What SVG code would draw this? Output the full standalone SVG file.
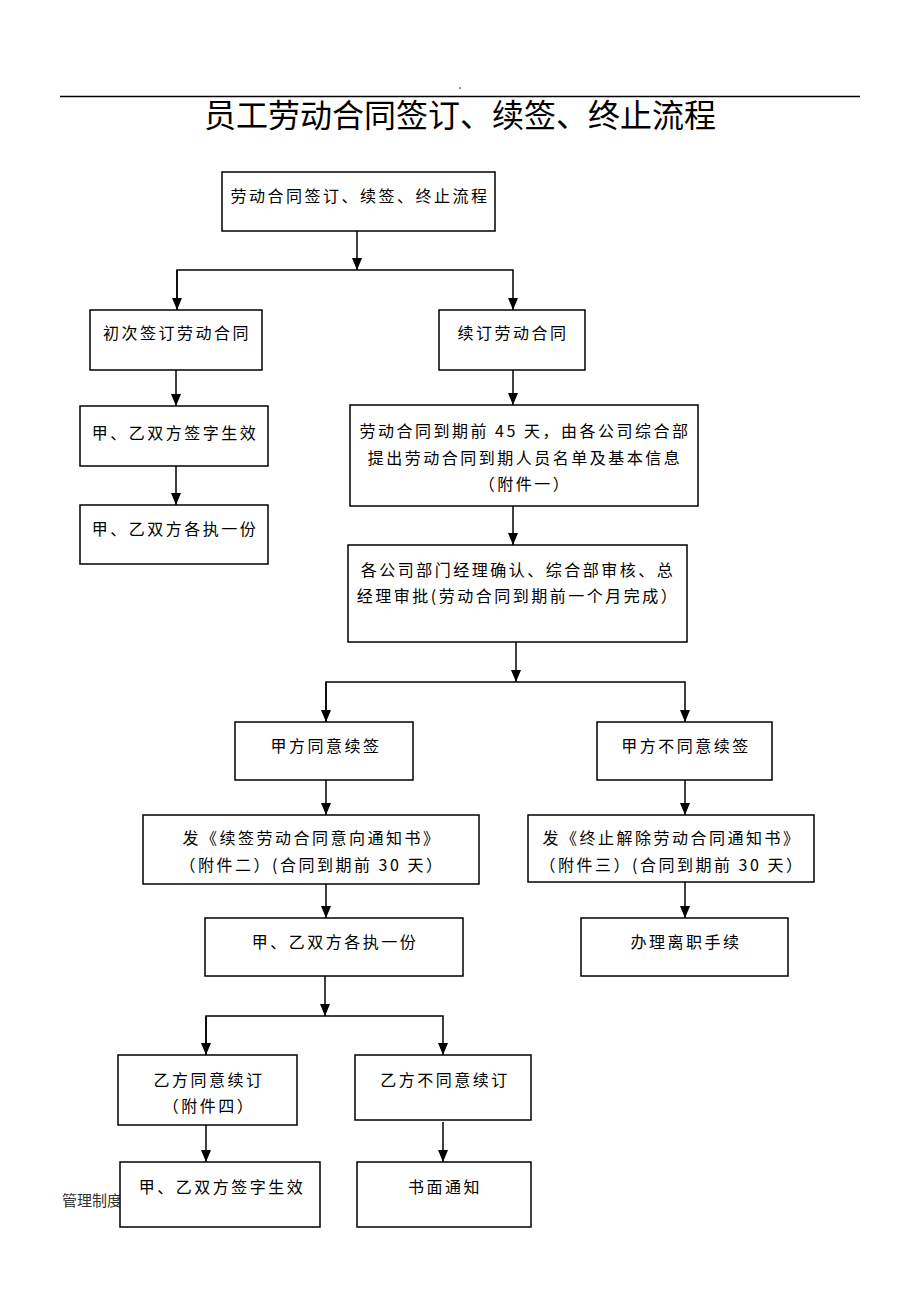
<svg xmlns="http://www.w3.org/2000/svg" width="920" height="1300" viewBox="0 0 920 1300">
<style>
.box{fill:#fff;stroke:#000;stroke-width:1.5}
.t{font-family:"Noto Sans CJK SC","Liberation Serif",serif;font-size:16px;letter-spacing:2.5px;fill:#000;text-anchor:middle}
.title{font-family:"Noto Sans CJK SC","Liberation Serif",serif;font-size:32px;fill:#000;text-anchor:middle}
.foot{font-family:"Noto Sans CJK SC","Liberation Sans",sans-serif;font-size:15px;fill:#333}
.c{fill:none;stroke:#000;stroke-width:1.5}
</style>
<defs>
<marker id="ar" viewBox="0 0 12 10" refX="12" refY="5" markerWidth="12" markerHeight="10" markerUnits="userSpaceOnUse" orient="auto">
<path d="M0,0 L12,5 L0,10 z" fill="#000"/>
</marker>
</defs>
<rect width="920" height="1300" fill="#fff"/>
<g id="header">
<line x1="60" y1="96.5" x2="860" y2="96.5" stroke="#000" stroke-width="1.5"/>
<circle cx="460" cy="88" r="0.8" fill="#000"/>
<text class="title" x="460" y="127">员工劳动合同签订、续签、终止流程</text>
</g>
<text class="foot" x="62" y="1206">管理制度</text>
<g id="connectors">
<path class="c" d="M357,231 V270" marker-end="url(#ar)"/>
<path class="c" d="M177,310 V270 H513 V310" marker-end="url(#ar)"/>
<path class="c" d="M177,270 V310" marker-end="url(#ar)"/>
<path class="c" d="M176,370 V406" marker-end="url(#ar)"/>
<path class="c" d="M176,466 V505" marker-end="url(#ar)"/>
<path class="c" d="M513,370 V405" marker-end="url(#ar)"/>
<path class="c" d="M513,506 V545" marker-end="url(#ar)"/>
<path class="c" d="M516,642 V682" marker-end="url(#ar)"/>
<path class="c" d="M326,722 V682 H685 V722" marker-end="url(#ar)"/>
<path class="c" d="M326,682 V722" marker-end="url(#ar)"/>
<path class="c" d="M326,780 V815" marker-end="url(#ar)"/>
<path class="c" d="M685,780 V815" marker-end="url(#ar)"/>
<path class="c" d="M326,884 V918" marker-end="url(#ar)"/>
<path class="c" d="M685,882 V918" marker-end="url(#ar)"/>
<path class="c" d="M325,976 V1016" marker-end="url(#ar)"/>
<path class="c" d="M206,1055 V1016 H443 V1055" marker-end="url(#ar)"/>
<path class="c" d="M206,1016 V1055" marker-end="url(#ar)"/>
<path class="c" d="M206,1125 V1162" marker-end="url(#ar)"/>
<path class="c" d="M443,1122 V1162" marker-end="url(#ar)"/>
</g>
<g id="n-start"><rect class="box" x="222" y="172" width="273" height="59"/><text class="t" x="360" y="202">劳动合同签订、续签、终止流程</text></g>
<g id="n-first"><rect class="box" x="90" y="310" width="172" height="60"/><text class="t" x="177" y="339">初次签订劳动合同</text></g>
<g id="n-renew"><rect class="box" x="439" y="310" width="146" height="60"/><text class="t" x="513" y="339">续订劳动合同</text></g>
<g id="n-sign1"><rect class="box" x="80" y="406" width="188" height="60"/><text class="t" x="175" y="439">甲、乙双方签字生效</text></g>
<g id="n-copy1"><rect class="box" x="80" y="505" width="188" height="59"/><text class="t" x="175" y="535">甲、乙双方各执一份</text></g>
<g id="n-45"><rect class="box" x="350" y="405" width="348" height="101"/>
<text class="t" x="525" y="437">劳动合同到期前 45 天，由各公司综合部</text>
<text class="t" x="525" y="464">提出劳动合同到期人员名单及基本信息</text>
<text class="t" x="525" y="490">（附件一）</text></g>
<g id="n-approve"><rect class="box" x="348" y="545" width="339" height="97"/>
<text class="t" x="518" y="576">各公司部门经理确认、综合部审核、总</text>
<text class="t" x="518" y="602">经理审批(劳动合同到期前一个月完成）</text></g>
<g id="n-agree"><rect class="box" x="235" y="722" width="178" height="58"/><text class="t" x="326" y="752">甲方同意续签</text></g>
<g id="n-disagree"><rect class="box" x="597" y="722" width="175" height="58"/><text class="t" x="686" y="752">甲方不同意续签</text></g>
<g id="n-notice1"><rect class="box" x="143" y="815" width="336" height="69"/>
<text class="t" x="312" y="844">发《续签劳动合同意向通知书》</text>
<text class="t" x="312" y="871">（附件二）(合同到期前 30 天）</text></g>
<g id="n-notice2"><rect class="box" x="528" y="815" width="286" height="67"/>
<text class="t" x="672" y="844">发《终止解除劳动合同通知书》</text>
<text class="t" x="672" y="871">（附件三）(合同到期前 30 天）</text></g>
<g id="n-copy2"><rect class="box" x="205" y="918" width="258" height="58"/><text class="t" x="335" y="948">甲、乙双方各执一份</text></g>
<g id="n-leave"><rect class="box" x="581" y="918" width="207" height="58"/><text class="t" x="686" y="948">办理离职手续</text></g>
<g id="n-bagree"><rect class="box" x="118" y="1055" width="179" height="70"/>
<text class="t" x="209" y="1086">乙方同意续订</text>
<text class="t" x="209" y="1112">（附件四）</text></g>
<g id="n-bdisagree"><rect class="box" x="355" y="1055" width="176" height="65"/><text class="t" x="445" y="1086">乙方不同意续订</text></g>
<g id="n-sign2"><rect class="box" x="120" y="1162" width="200" height="65"/><text class="t" x="222" y="1193">甲、乙双方签字生效</text></g>
<g id="n-written"><rect class="box" x="357" y="1162" width="174" height="65"/><text class="t" x="445" y="1193">书面通知</text></g>
</svg>
